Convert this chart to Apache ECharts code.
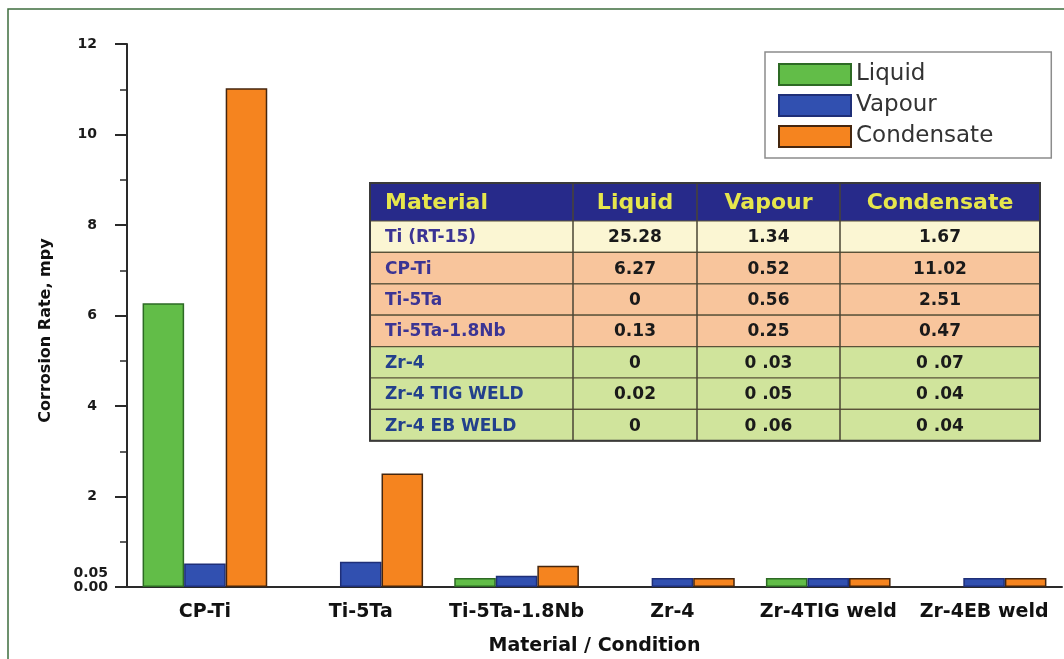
<!DOCTYPE html>
<html>
<head>
<meta charset="utf-8">
<title>Corrosion Rate</title>
<script src="https://cdn.jsdelivr.net/npm/echarts@6.0.0/dist/echarts.min.js"></script>
<style>
  html, body { margin: 0; padding: 0; background: #fff; }
  #main { width: 1064px; height: 659px; }
</style>
</head>
<body>
<div id="main"></div>
<script>
// bar chart data (mpy)
var categories = ['CP-Ti', 'Ti-5Ta', 'Ti-5Ta-1.8Nb', 'Zr-4', 'Zr-4TIG weld', 'Zr-4EB weld'];
var liquid = [6.27, 0, 0.13, 0, 0.02, 0];
var vapour = [0.52, 0.56, 0.25, 0.03, 0.05, 0.06];
var condensate = [11.02, 2.51, 0.47, 0.07, 0.04, 0.04];
var yLabelValues = [0, 2, 4, 6, 8, 10, 12];
var ySmallLabel = [0.05];

// the table drawn inside the plot
var tableHeader = ['Material', 'Liquid', 'Vapour', 'Condensate'];
var tableMaterial = ['Ti (RT-15)', 'CP-Ti', 'Ti-5Ta', 'Ti-5Ta-1.8Nb', 'Zr-4', 'Zr-4 TIG WELD', 'Zr-4 EB WELD'];
var tableLiquid = ['25.28', '6.27', '0', '0.13', '0', '0.02', '0'];
var tableVapour = ['1.34', '0.52', '0.56', '0.25', '0 .03', '0 .05', '0 .06'];
var tableCondensate = ['1.67', '11.02', '2.51', '0.47', '0 .07', '0 .04', '0 .04'];

var FONT = '"DejaVu Sans", Arial, sans-serif';

var chart = echarts.init(document.getElementById('main'));

// zero readings get no bar
function noZero(v) {
    return v === 0 ? '-' : v;
}

function buildTable() {
    var colX = [370, 573, 697, 840, 1040];
    var top = 183, headH = 38, rowH = 31.4;
    var els = [];
    // header
    els.push({
        type: 'rect', silent: true, z: 100,
        shape: { x: colX[0], y: top, width: colX[4] - colX[0], height: headH },
        style: { fill: '#272a8a' }
    });
    for (var c = 0; c < 4; c++) {
        els.push({
            type: 'text', silent: true, z: 103,
            x: c === 0 ? colX[0] + 15 : (colX[c] + colX[c + 1]) / 2,
            y: top + headH / 2 + 1,
            style: {
                text: tableHeader[c], fill: '#e6e64c',
                fontSize: 22, fontWeight: 'bold', fontFamily: FONT,
                align: c === 0 ? 'left' : 'center', verticalAlign: 'middle',
                textAlign: c === 0 ? 'left' : 'center', textVerticalAlign: 'middle'
            }
        });
    }
    // body rows
    for (var i = 0; i < tableMaterial.length; i++) {
        var y = top + headH + i * rowH;
        var fill = i === 0 ? '#fbf6d3' : (i <= 3 ? '#f8c59c' : '#d0e49c');
        els.push({
            type: 'rect', silent: true, z: 100,
            shape: { x: colX[0], y: y, width: colX[4] - colX[0], height: rowH },
            style: { fill: fill, stroke: '#5a5238', lineWidth: 1.2 }
        });
        var cells = [tableMaterial[i], tableLiquid[i], tableVapour[i], tableCondensate[i]];
        for (var k = 0; k < 4; k++) {
            els.push({
                type: 'text', silent: true, z: 103,
                x: k === 0 ? colX[0] + 15 : (colX[k] + colX[k + 1]) / 2,
                y: y + rowH / 2 + 1,
                style: {
                    text: cells[k],
                    fill: k === 0 ? (i <= 3 ? '#3b3494' : '#22408c') : '#1a1a1a',
                    fontSize: 17, fontWeight: 'bold', fontFamily: FONT,
                    align: k === 0 ? 'left' : 'center', verticalAlign: 'middle',
                    textAlign: k === 0 ? 'left' : 'center', textVerticalAlign: 'middle'
                }
            });
        }
    }
    // column lines + outer border
    var bottom = top + headH + tableMaterial.length * rowH;
    for (var j = 1; j < 4; j++) {
        els.push({
            type: 'line', silent: true, z: 102,
            shape: { x1: colX[j], y1: top, x2: colX[j], y2: bottom },
            style: { stroke: '#4a4535', lineWidth: 1.5 }
        });
    }
    els.push({
        type: 'rect', silent: true, z: 102,
        shape: { x: colX[0], y: top, width: colX[4] - colX[0], height: bottom - top },
        style: { fill: 'none', stroke: '#3a3a3a', lineWidth: 2 }
    });
    return els;
}

var labelFont = { fontSize: 14, fontWeight: 'bold', color: '#1a1a1a', fontFamily: FONT };

var option = {
    animation: false,
    textStyle: { fontFamily: FONT },
    grid: {
        left: 127,
        right: 2,
        top: 44,
        bottom: 72,
        containLabel: false,
        outerBoundsMode: 'none'
    },
    legend: {
        data: ['Liquid', 'Vapour', 'Condensate'],
        orient: 'vertical',
        left: 765,
        top: 52,
        padding: [11, 58, 10, 13],
        itemWidth: 72,
        itemHeight: 21,
        itemGap: 8,
        icon: 'rect',
        borderColor: '#8c8c8c',
        borderWidth: 1.5,
        backgroundColor: '#fff',
        textStyle: { fontSize: 23, color: '#333', fontFamily: FONT }
    },
    xAxis: [{
        type: 'category',
        data: categories,
        position: 'bottom',
        axisLine: { lineStyle: { color: '#2a2a2a', width: 2 } },
        axisTick: { alignWithLabel: true, length: 10, lineStyle: { color: '#2a2a2a', width: 2 } },
        axisLabel: {
            interval: 0,
            margin: 16,
            fontSize: 19,
            fontWeight: 'bold',
            color: '#111',
            fontFamily: FONT
        },
        name: 'Material / Condition',
        nameLocation: 'middle',
        nameGap: 50,
        nameTextStyle: { fontSize: 19, fontWeight: 'bold', color: '#111', fontFamily: FONT }
    }, {
        // boundary ticks between the categories
        type: 'category',
        data: categories,
        position: 'bottom',
        axisLine: { show: false },
        axisTick: { length: 5, lineStyle: { color: '#2a2a2a', width: 2 } },
        axisLabel: { show: false }
    }],
    yAxis: [{
        type: 'value',
        min: 0,
        max: 12,
        interval: 2,
        splitLine: { show: false },
        axisLine: { show: true, lineStyle: { color: '#2a2a2a', width: 2 } },
        axisTick: { show: true, length: 12, lineStyle: { color: '#2a2a2a', width: 2 } },
        minorTick: { show: true, splitNumber: 2, length: 7, lineStyle: { color: '#2a2a2a', width: 1.5 } },
        axisLabel: {
            customValues: yLabelValues,
            margin: 19,
            showMinLabel: true,
            formatter: function (v) {
                return v === 0 ? '{low|0.00}' : '{big|' + v + '}';
            },
            rich: {
                big: Object.assign({ padding: [0, 11, 0, 0] }, labelFont),
                low: labelFont
            }
        },
        name: 'Corrosion Rate, mpy',
        nameLocation: 'middle',
        nameGap: 73,
        nameTextStyle: { fontSize: 16, fontWeight: 'bold', color: '#111', fontFamily: FONT, padding: [0, 30, 0, 0] }
    }, {
        // extra label for the small-value end of the scale
        type: 'value',
        position: 'left',
        offset: 0,
        min: 0,
        max: 12,
        interval: 2,
        splitLine: { show: false },
        axisLine: { show: false },
        axisTick: { show: false },
        axisLabel: {
            customValues: ySmallLabel,
            margin: 19,
            showMinLabel: true,
            formatter: function (v) {
                return '{up|' + v.toFixed(2) + '}';
            },
            rich: {
                up: Object.assign({ padding: [0, 0, 22, 0] }, labelFont)
            }
        }
    }],
    series: [{
        name: 'Liquid',
        type: 'bar',
        data: liquid.map(noZero),
        barGap: '0%',
        barCategoryGap: '20%',
        barMinHeight: 9,
        itemStyle: { color: '#62bd48', borderColor: '#2d6a24', borderWidth: 1.5 }
    }, {
        name: 'Vapour',
        type: 'bar',
        data: vapour.map(noZero),
        barGap: '0%',
        barCategoryGap: '20%',
        barMinHeight: 9,
        itemStyle: { color: '#3150b0', borderColor: '#1f2f78', borderWidth: 1.5 }
    }, {
        name: 'Condensate',
        type: 'bar',
        data: condensate.map(noZero),
        barGap: '0%',
        barCategoryGap: '20%',
        barMinHeight: 9,
        itemStyle: { color: '#f5841f', borderColor: '#45260e', borderWidth: 1.5 }
    }],
    graphic: {
        elements: [{
            // outer green frame of the figure
            type: 'rect', silent: true, z: 1,
            shape: { x: 8, y: 9, width: 1200, height: 800 },
            style: { fill: 'none', stroke: '#3e6e3e', lineWidth: 1.5 }
        }].concat(buildTable())
    }
};

chart.setOption(option);
</script>
</body>
</html>
